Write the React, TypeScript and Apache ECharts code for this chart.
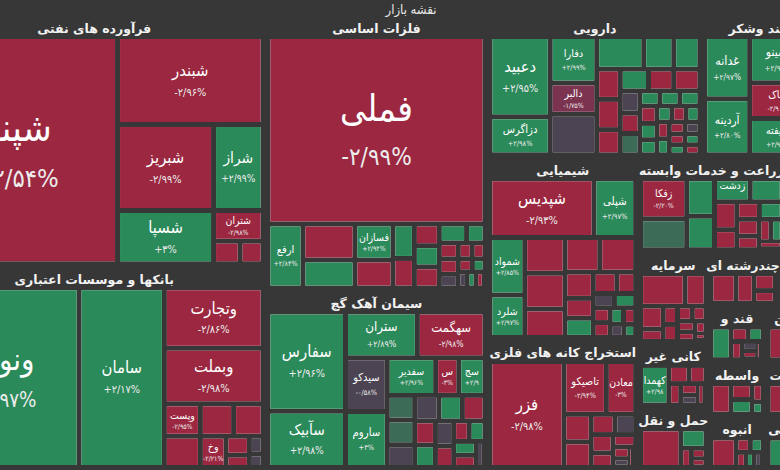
import React, { useEffect, useRef } from 'react';
import * as echarts from 'echarts';

type Stock = [string, number, number];

const BG = '#373737';
const FONT = 'DejaVu Sans Condensed, DejaVu Sans, sans-serif';
const HEAD_FONT = 'DejaVu Sans, sans-serif';
const TITLE = 'نقشه بازار';

const sectorNames = [
  'فرآورده های نفتی', 'بانکها و موسسات اعتباری', 'فلزات اساسی', 'سیمان آهک گچ',
  'دارویی', 'غذایی بجز قند وشکر', 'شیمیایی', 'استخراج کانه های فلزی',
  'زراعت و خدمات وابسته', 'خودرو', 'سرمایه', 'کانی غیر', 'حمل و نقل',
  'چندرشته ای', 'رایانه', 'لاستیک', 'قند و', 'واسطه', 'انبوه',
  'ماشین', 'کاغذ', 'مخابرات', 'مهندسی', 'هتل', 'بیمه',
];
const sectorValues = [
  84908, 68880, 60333, 39338, 30174, 25239, 27150, 19350, 13724, 9118,
  6370, 4410, 4340, 3657, 2756, 2756, 3192, 3078, 3021, 3248, 3248,
  3132, 3074, 3074, 3074,
];

const oilStocks: Stock[] = [
  ['شپنا', 44844, -2.54], ['شبندر', 13158, -2.96], ['شبریز', 8484, -2.99],
  ['شسپا', 5252, 3], ['شراز', 4368, 2.99], ['شتران', 1560, -2.98],
  ['', 616, -2.9], ['', 528, -2.7],
];
const bankStocks: Stock[] = [
  ['ونوین', 28836, 2.97], ['سامان', 16020, 2.17], ['وتجارت', 6240, -2.86],
  ['وبملت', 5720, -2.98], ['وپست', 1216, -2.95], ['', 1178, -2.9],
  ['', 1120, -2.9], ['', 992, -2.9], ['وخاور', 837, -2.21], ['', 465, -2.9],
  ['', 300, -2.9], ['', 250, -0.4], ['', 194, -0.3],
];
const metalStocks: Stock[] = [
  ['فملی', 40176, -2.99], ['ارفع', 2205, 2.84], ['', 1846, -2.9], ['', 1430, 2.9],
  ['فسازان', 1349, 2.94], ['', 1045, -2.9], ['', 728, 2.9], ['', 624, -2.9],
  ['', 532, -2.9], ['', 520, 2.9], ['', 520, -2.9], ['', 504, 2.9], ['', 340, 2.9],
  ['', 300, -2.9], ['', 289, -2.9], ['', 255, -0.3], ['', 220, -2.9], ['', 200, -2.9],
  ['', 180, -2.9], ['', 160, 2.9], ['', 150, -0.2], ['', 140, 2.9], ['', 134, -2.9],
];
const cementStocks: Stock[] = [
  ['سفارس', 7722, 2.96], ['سآبیک', 4368, 2.98], ['ستران', 3300, 2.89],
  ['سهگمت', 3100, -2.98], ['سیدکو', 2250, -0.58], ['ساروم', 2352, 3],
  ['سفدیر', 1824, 2.96], ['ستان', 874, -3], ['سجنوب', 988, 2.9],
  ['', 676, 1.2], ['', 676, 1.2], ['', 624, -0.3], ['', 624, -0.3], ['', 598, 2.9],
  ['', 576, -2.9], ['', 504, -2.9], ['', 468, 2.9], ['', 460, -0.3], ['', 390, -2.9],
  ['', 322, -2.9], ['', 322, 2.9], ['', 312, 2.9], ['', 276, -2.9], ['', 230, -0.3],
];
const pharmaStocks: Stock[] = [
  ['دعبید', 4880, 2.95], ['دزاگرس', 2318, 2.98], ['دفارا', 2186, 2.99],
  ['دالبر', 1457, -1.75], ['', 1904, -0.3], ['', 1551, 2.9], ['', 990, 2.9],
  ['', 858, 2.9], ['', 720, -2.9], ['', 720, -2.9], ['', 600, -2.9], ['', 616, 2.9],
  ['', 550, -2.9], ['', 572, -2.9], ['', 440, -0.3], ['', 400, -2.9], ['', 420, 1.3],
  ['', 305, 2.9], ['', 305, 2.9], ['', 305, 2.9], ['', 300, -2.9], ['', 280, 2.9],
  ['', 260, 2.9], ['', 240, 2.9], ['', 230, -2.9], ['', 220, 2.9], ['', 210, -2.9],
  ['', 200, 2.9], ['', 190, -2.9], ['', 180, -0.3], ['', 170, -2.9], ['', 160, 2.9],
  ['', 160, 2.9], ['', 150, -2.9],
];
const foodStocks: Stock[] = [
  ['غدانه', 2900, 2.97], ['آردینه', 2600, 2.8], ['غمینو', 2700, 2.96],
  ['غپاک', 2100, -2.9], ['شیفته', 2124, 2.97], ['', 2220, 1.2], ['', 2000, 2.9],
  ['', 1800, -2.9], ['', 1500, 2.9], ['', 1486, -2.9],
];
const chemStocks: Stock[] = [
  ['شپدیس', 6090, -2.93], ['شپلی', 2436, 2.97], ['شمواد', 1995, 2.85],
  ['شلرد', 1470, 2.97], ['', 1440, -2.9], ['', 1440, -2.9], ['', 1140, -2.9],
  ['', 1200, -2.9], ['', 1240, -2.9], ['', 740, -2.9], ['', 560, -2.9], ['', 540, 2.9],
  ['', 500, -2.9], ['', 400, -2.9], ['', 300, -0.3], ['', 300, 2.9], ['', 250, -2.9],
  ['', 250, -2.9], ['', 220, 2.9], ['', 200, -2.9], ['', 180, -0.4], ['', 150, 2.9],
];
const miningStocks: Stock[] = [
  ['فزر', 7875, -2.98], ['تاصیکو', 2250, -2.94], ['معادن', 1550, -3],
  ['', 750, -2.9], ['', 700, -2.9], ['', 480, -2.9], ['', 420, -0.3], ['', 400, -2.9],
  ['', 320, -2.9], ['', 280, -2.9], ['', 200, -2.9], ['', 150, -0.3], ['', 116, -2.9],
];
const farmStocks: Stock[] = [
  ['زفکا', 1833, -2.2], ['', 1410, 1.1], ['', 1036, 2.9], ['', 924, 2.9],
  ['زدشت', 814, 2.5], ['', 726, 2.9], ['', 616, -2.9], ['', 442, -2.9], ['', 396, -2.9],
  ['', 396, 2.9], ['', 374, -2.9], ['', 300, -2.9], ['', 264, -2.9], ['', 250, 2.9],
  ['', 182, -2.9],
];
const autoStocks: Stock[] = [
  ['', 3000, -2.9], ['', 2000, 2.9], ['', 1500, -2.9], ['', 1200, -2.9], ['', 800, 2.9], ['', 600, -2.9],
];
const investStocks: Stock[] = [
  ['', 1551, -2.9], ['', 726, -2.9], ['', 560, -2.9], ['', 300, -2.9], ['', 280, -2.9],
  ['', 260, -2.9], ['', 240, -2.9], ['', 220, -2.9], ['', 200, -2.9], ['', 180, -2.9],
  ['', 150, -2.9], ['', 88, -2.9],
];
const mineralStocks: Stock[] = [
  ['کهمدا', 1092, 2.98], ['', 360, -2.9], ['', 300, -2.9], ['', 250, -2.9],
  ['', 200, -2.9], ['', 170, -0.3], ['', 160, -2.9],
];
const transportStocks: Stock[] = [
  ['', 1520, -2.9], ['', 475, 2.9], ['', 200, -2.9], ['', 150, -2.9], ['', 125, -2.9],
];
const multiStocks: Stock[] = [['', 725, -2.9], ['', 522, -2.9], ['', 348, -2.9], ['', 261, -2.9]];
const computerStocks: Stock[] = [['', 1000, -2.9], ['', 800, 2.9], ['', 600, -2.9], ['', 356, -2.9]];
const tireStocks: Stock[] = [['', 1200, -2.9], ['', 900, -2.9], ['', 656, 2.9]];
const sugarStocks: Stock[] = [
  ['', 640, 2.9], ['', 240, -2.9], ['', 210, 2.9], ['', 200, -2.9], ['', 150, -0.3],
  ['', 124, -2.9], ['', 100, -2.9],
];
const brokerStocks: Stock[] = [['', 600, -2.9], ['', 325, -2.9], ['', 300, 2.9], ['', 200, -2.9], ['', 135, 2.9]];
const buildStocks: Stock[] = [
  ['', 725, -2.9], ['', 200, -2.9], ['', 180, 2.9], ['', 150, -2.9], ['', 130, 2.9], ['', 123, -0.3],
];
const machineStocks: Stock[] = [['کاشا', 1392, -2.91], ['', 304, -2.9]];
const paperStocks: Stock[] = [['', 1500, -2.9], ['', 1000, 2.9], ['', 748, -2.9]];
const telecomStocks: Stock[] = [['', 800, -2.9], ['', 400, -2.9], ['', 390, 2.9]];
const engStocks: Stock[] = [['', 500, 2.9], ['', 400, 2.9], ['', 300, -2.9], ['', 337, -0.3]];
const hotelStocks: Stock[] = [['', 1500, 2.9], ['', 1574, -2.9]];
const insureStocks: Stock[] = [['', 1800, -2.9], ['', 1274, 2.9]];

const sectorStocks: Stock[][] = [
  oilStocks, bankStocks, metalStocks, cementStocks, pharmaStocks, foodStocks,
  chemStocks, miningStocks, farmStocks, autoStocks, investStocks, mineralStocks,
  transportStocks, multiStocks, computerStocks, tireStocks, sugarStocks,
  brokerStocks, buildStocks, machineStocks, paperStocks, telecomStocks,
  engStocks, hotelStocks, insureStocks,
];

const FA = '۰۱۲۳۴۵۶۷۸۹';
function fmtPct(p: number): string {
  const sign = p > 0 ? '+' : p < 0 ? '-' : '';
  const a = Math.abs(p);
  const s = Number.isInteger(a) ? String(a) : a.toFixed(2);
  return sign + s.replace(/\d/g, (d) => FA[Number(d)]).replace('.', '/') + '%';
}

function colorFor(p: number): string {
  if (p >= 2) return '#2b8a5a';
  if (p >= 1) return '#3c6b57';
  if (p > -1) return '#4c4452';
  if (p > -2) return '#7c3350';
  return '#9c2741';
}

function leaf([name, value, change]: Stock) {
  const r = Math.sqrt(value);
  const big = r > 150;
  const fn = big ? r / 5.5 : Math.min(16.5, Math.max(10.5, r / 4.3));
  const fp = fn * 0.66;
  const small = r < 45;
  const lhN = fn * (small ? 1.32 : 1.45);
  const lhP = fp * (small ? 1.55 : 1.8);
  return {
    name,
    value,
    itemStyle: { color: colorFor(change), borderWidth: 0 },
    label: name
      ? {
          show: true,
          position: ['50%', '50%'],
          align: 'center',
          verticalAlign: 'top',
          padding: 0,
          offset: [0, -(lhN + lhP) / 2],
          overflow: 'truncate',
          ellipsis: '',
          formatter: `{n|${name}}\n{p|${fmtPct(change)}}`,
          rich: {
            n: { fontSize: fn, lineHeight: lhN, color: '#ffffff', fontFamily: FONT, align: 'center' },
            p: { fontSize: fp, lineHeight: lhP, color: '#ececec', fontFamily: FONT, align: 'center' },
          },
        }
      : { show: false },
  };
}

export default function App() {
  const ref = useRef<HTMLDivElement>(null);
  useEffect(() => {
    if (!ref.current) return;
    const chart = echarts.init(ref.current, undefined, { renderer: 'svg' });
    const data = sectorNames.map((name, i) => ({
      name,
      value: sectorValues[i],
      children: sectorStocks[i].map(leaf),
    }));
    chart.setOption({
      animation: false,
      backgroundColor: BG,
      graphic: [
        {
          type: 'text',
          x: 411,
          y: 9,
          style: {
            text: TITLE,
            fill: '#e6e6e6',
            fontSize: 13,
            fontFamily: FONT,
            align: 'center',
            verticalAlign: 'middle',
          },
        },
      ],
      series: [
        {
          type: 'treemap',
          left: -75,
          top: 17,
          width: 955,
          height: 451,
          sort: false,
          squareRatio: 1,
          roam: false,
          nodeClick: false,
          visibleMin: 0,
          animation: false,
          breadcrumb: { show: false },
          label: { show: true, fontFamily: FONT, padding: 0 },
          levels: [
            {
              itemStyle: { color: BG, borderColor: BG, borderWidth: 0, gapWidth: 4 },
              upperLabel: { show: false },
            },
            {
              itemStyle: { color: BG, borderColor: BG, borderWidth: 3, gapWidth: 5 },
              upperLabel: {
                show: true,
                height: 22,
                position: 'inside',
                padding: 0,
                overflow: 'none',
                formatter: '{t|{b}}',
                rich: {
                  t: {
                    color: '#f2f2f2',
                    fontSize: 12.5,
                    fontWeight: 'bold',
                    fontFamily: HEAD_FONT,
                    lineHeight: 22,
                    align: 'center',
                  },
                },
              },
            },
            { itemStyle: { borderWidth: 0, gapWidth: 0 } },
          ],
          data,
        },
      ],
    });
    return () => chart.dispose();
  }, []);
  return (
    <div
      ref={ref}
      style={{ position: 'fixed', left: 0, top: 0, width: 780, height: 470, background: BG }}
    />
  );
}
